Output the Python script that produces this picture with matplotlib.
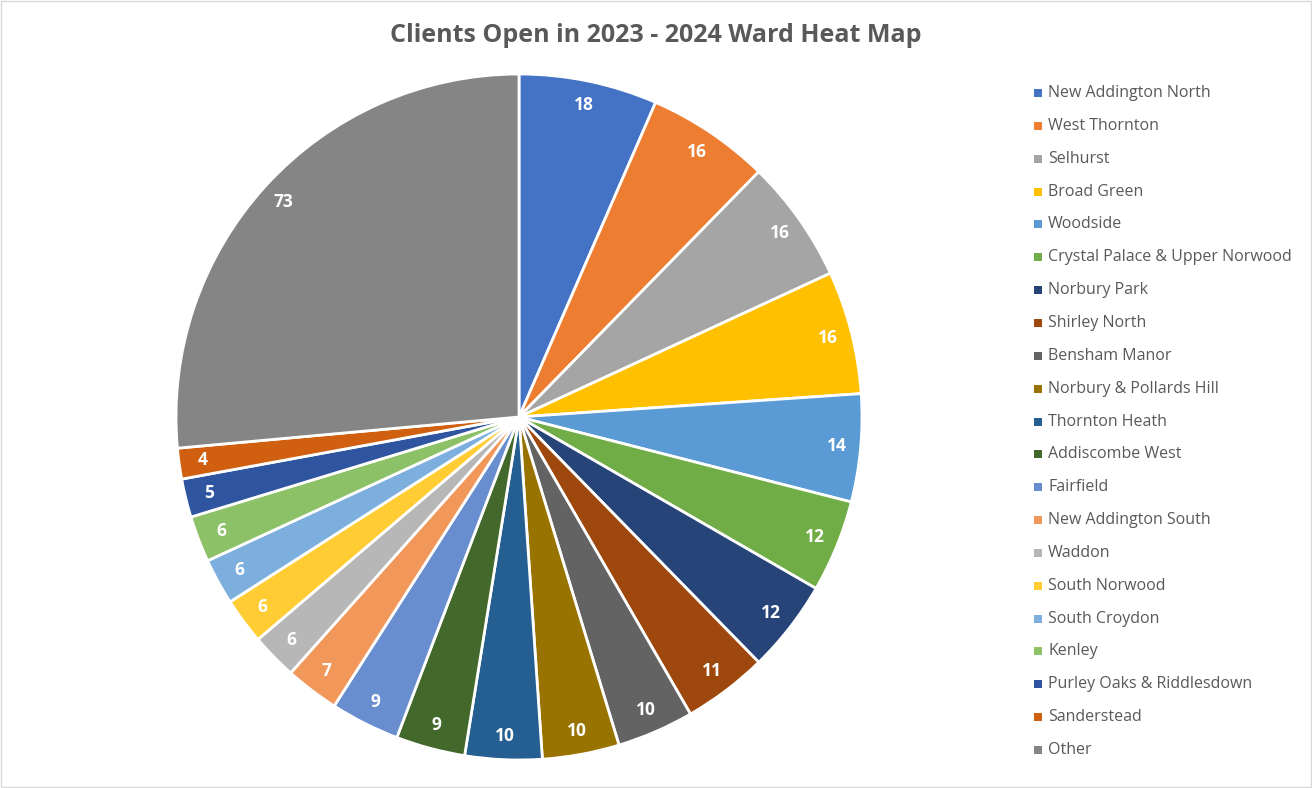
import matplotlib
matplotlib.use("Agg")
import matplotlib.pyplot as plt
from matplotlib.patches import Rectangle

title = "Clients Open in 2023 - 2024 Ward Heat Map"
wards = ["New Addington North", "West Thornton", "Selhurst", "Broad Green", "Woodside",
         "Crystal Palace & Upper Norwood", "Norbury Park", "Shirley North", "Bensham Manor",
         "Norbury & Pollards Hill", "Thornton Heath", "Addiscombe West", "Fairfield",
         "New Addington South", "Waddon", "South Norwood", "South Croydon", "Kenley",
         "Purley Oaks & Riddlesdown", "Sanderstead", "Other"]
clients = [18, 16, 16, 16, 14, 12, 12, 11, 10, 10, 10, 9, 9, 7, 6, 6, 6, 6, 5, 4, 73]
colors = ["#4472C4", "#ED7D31", "#A5A5A5", "#FFC000", "#5B9BD5", "#70AD47",
          "#264478", "#9E480E", "#636363", "#997300", "#255E91", "#43682B",
          "#698ED0", "#F1975A", "#B7B7B7", "#FFCD33", "#7CAFDD", "#8CC168",
          "#2F55A0", "#D0600F", "#858585"]

W, H = 1312, 788
fig = plt.figure(figsize=(W / 100, H / 100), dpi=100)
plt.rcParams['font.family'] = ['Open Sans', 'DejaVu Sans']

cx, cy, r = 519, 417, 343
ax = fig.add_axes([(cx - r) / W, (H - cy - r) / H, 2 * r / W, 2 * r / H])
wedges, texts, autotexts = ax.pie(
    clients, colors=colors, startangle=90, counterclock=False, radius=1,
    wedgeprops=dict(edgecolor="white", linewidth=2),
    autopct=lambda p: "", pctdistance=0.93)
for t, v in zip(autotexts, clients):
    t.set_text(str(v))
    t.set_color("white")
    t.set_fontweight("bold")
    t.set_fontsize(12.5)
ax.set_xlim(-1.0, 1.0)
ax.set_ylim(-1.0, 1.0)
ax.set_aspect("equal")
ax.axis("off")

fig.text(656 / W, 1 - 36 / H, title, ha="center", va="center",
         fontsize=18, fontweight="bold", color="#595959")

# legend
y0, dy = 93, 32.85
for i, (lab, c) in enumerate(zip(wards, colors)):
    y = y0 + i * dy
    fig.patches.append(Rectangle(((1034) / W, 1 - (y + 4) / H), 8 / W, 8 / H,
                                 transform=fig.transFigure, facecolor=c, edgecolor="none"))
    fig.text(1048 / W, 1 - y / H, lab, ha="left", va="center", fontsize=11.5, color="#595959")

fig.patches.append(Rectangle((0.0008, 0.001), 0.9984, 0.998, transform=fig.transFigure,
                             facecolor="none", edgecolor="#D9D9D9", linewidth=1))
fig.savefig("out.png", dpi=100, facecolor="white")
